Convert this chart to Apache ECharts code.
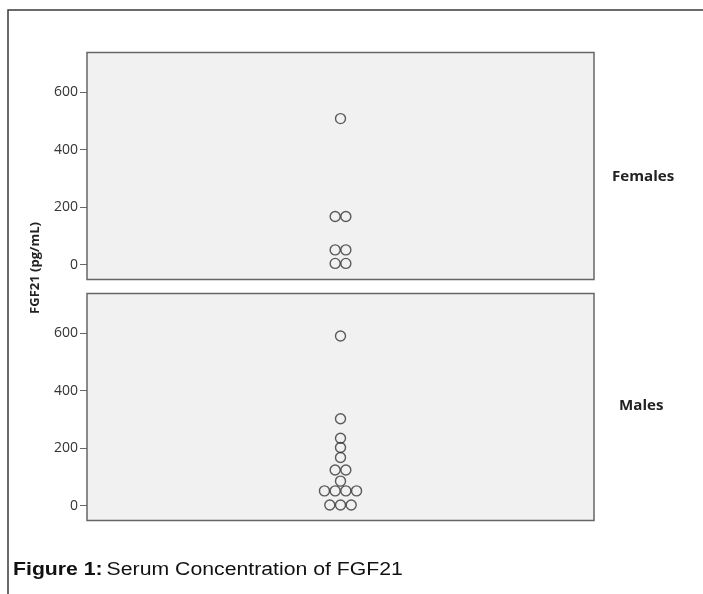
<!DOCTYPE html>
<html>
<head>
<meta charset="utf-8">
<script src="https://cdn.jsdelivr.net/npm/echarts@6/dist/echarts.min.js"></script>
<style>
  html, body { margin: 0; padding: 0; background: #fff; }
  #fgf21_chart { width: 703px; height: 594px; }
</style>
</head>
<body>
<div id="fgf21_chart"></div>
<script>
// panels (one per sex)
var panelNames = ['Females', 'Males'];
// FGF21 values (pg/mL)
var femaleValues = [508, 167, 167, 51, 51, 4, 4];
var maleValues = [590, 302, 234, 202, 167, 124, 124, 85, 51, 51, 51, 51, 2, 2, 2];
var tickValues = [0, 200, 400, 600];

var dotGap = 10.7; // px between neighbouring dots of one bin

// spread equal values side by side, like the SPSS dot plot
function dotData(values) {
    var counts = {};
    values.forEach(function (v) { counts[v] = (counts[v] || 0) + 1; });
    var seen = {};
    return values.map(function (v) {
        var i = seen[v] || 0;
        seen[v] = i + 1;
        return {
            value: ['all', v],
            symbolOffset: [(i - (counts[v] - 1) / 2) * dotGap, 0]
        };
    });
}

var chartDom = document.getElementById('fgf21_chart');
var myChart = echarts.init(chartDom);
var option;

var gridBase = {
    left: 87,
    width: 507,
    height: 227,
    show: true,
    backgroundColor: '#f0f1f0',
    borderColor: '#666',
    borderWidth: 1.5
};

var yBase = {
    type: 'value',
    min: -52,
    max: 738,
    splitLine: { show: false },
    axisLine: { show: false },
    axisTick: {
        show: true,
        length: 7,
        customValues: tickValues,
        lineStyle: { color: '#666', width: 1 }
    },
    axisLabel: {
        customValues: tickValues,
        color: '#333',
        fontFamily: 'Open Sans',
        fontSize: 14,
        margin: 9
    }
};

var xBase = {
    type: 'category',
    data: ['all'],
    show: false,
    boundaryGap: true
};

var dotStyle = {
    color: 'rgba(0,0,0,0)',
    borderColor: '#353535',
    borderWidth: 1.4
};

option = {
    animation: false,
    grid: [
        Object.assign({ top: 52.5 }, gridBase),
        Object.assign({ top: 293.5 }, gridBase)
    ],
    xAxis: [
        Object.assign({ gridIndex: 0 }, xBase),
        Object.assign({ gridIndex: 1 }, xBase)
    ],
    yAxis: [
        Object.assign({ gridIndex: 0 }, yBase),
        Object.assign({ gridIndex: 1 }, yBase)
    ],
    series: [
        {
            name: panelNames[0],
            type: 'scatter',
            xAxisIndex: 0,
            yAxisIndex: 0,
            symbol: 'circle',
            symbolSize: 10,
            itemStyle: dotStyle,
            data: dotData(femaleValues)
        },
        {
            name: panelNames[1],
            type: 'scatter',
            xAxisIndex: 1,
            yAxisIndex: 1,
            symbol: 'circle',
            symbolSize: 10,
            itemStyle: dotStyle,
            data: dotData(maleValues)
        }
    ],
    graphic: [
        // outer figure frame
        {
            type: 'polyline',
            shape: { points: [[8, 594], [8, 10], [703, 10]] },
            style: { stroke: '#3a3a3a', lineWidth: 1.5, fill: null }
        },
        {
            type: 'text',
            x: 612,
            y: 177,
            scaleX: 1.08,
            style: {
                text: panelNames[0],
                fill: '#222',
                font: 'bold 14px "Open Sans"',
                verticalAlign: 'middle'
            }
        },
        {
            type: 'text',
            x: 619,
            y: 406,
            scaleX: 1.08,
            style: {
                text: panelNames[1],
                fill: '#222',
                font: 'bold 14px "Open Sans"',
                verticalAlign: 'middle'
            }
        },
        {
            type: 'text',
            x: 35,
            y: 268,
            rotation: Math.PI / 2,
            style: {
                text: 'FGF21 (pg/mL)',
                fill: '#222',
                font: 'bold 13px "Open Sans"',
                align: 'center',
                verticalAlign: 'middle'
            }
        },
        {
            type: 'text',
            x: 13,
            y: 570,
            scaleX: 1.18,
            style: {
                text: '{b|Figure 1:} {n|Serum Concentration of FGF21}',
                verticalAlign: 'middle',
                rich: {
                    b: { font: 'bold 18px "Liberation Sans"', fill: '#111' },
                    n: { font: '18px "Liberation Sans"', fill: '#111' }
                }
            }
        }
    ]
};

option && myChart.setOption(option);
</script>
</body>
</html>
